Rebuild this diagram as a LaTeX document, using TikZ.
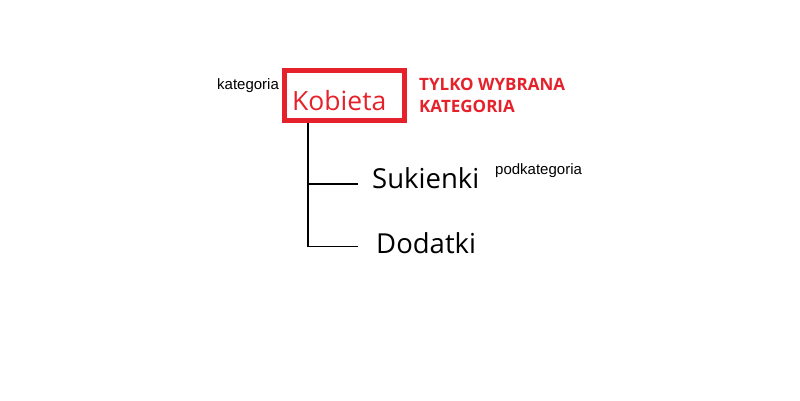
\documentclass[tikz,border=0pt]{standalone}
\usepackage{fontspec}
\setmainfont{Open Sans}
\newfontfamily\arialfont{Liberation Sans}
\usetikzlibrary{positioning}
\definecolor{katred}{RGB}{229,34,43}

\begin{document}
\begin{tikzpicture}[x=1pt,y=-1pt,
  catbox/.style={draw=katred,line width=5pt,minimum width=120pt,minimum height=50pt,inner sep=0pt},
  bigtext/.style={inner sep=0pt,anchor=base west,font=\fontsize{27.5}{32}\selectfont},
  smalltext/.style={inner sep=0pt,anchor=base west,font=\arialfont\fontsize{15}{17}\selectfont},
  branch/.style={line width=1.2pt}]
 \useasboundingbox (0,0) rectangle (800,400);
 \node[catbox] (box) at (344.5,95.5) {};
 \node[bigtext,text=katred,font=\fontsize{26.5}{30}\selectfont] (kobieta) at (292,110) {Kobieta};
 \node[smalltext] (kategoria) at (217,89) {kategoria};
 \node[inner sep=0pt,anchor=base west,text=katred,align=left,font=\bfseries\fontsize{17}{22}\selectfont] (uwaga) at (419,112) {TYLKO WYBRANA\\KATEGORIA};
 \node[bigtext] (sukienki) at (372,188) {Sukienki};
 \node[bigtext] (dodatki) at (376,253) {Dodatki};
 \node[smalltext] (podkategoria) at (495,174) {podkategoria};
 \coordinate (root) at (308,123);
 \coordinate (end1) at (358,184);
 \coordinate (end2) at (358,246.5);
 \draw[branch] (root) |- (end1);
 \draw[branch] (root) |- (end2);
\end{tikzpicture}
\end{document}
